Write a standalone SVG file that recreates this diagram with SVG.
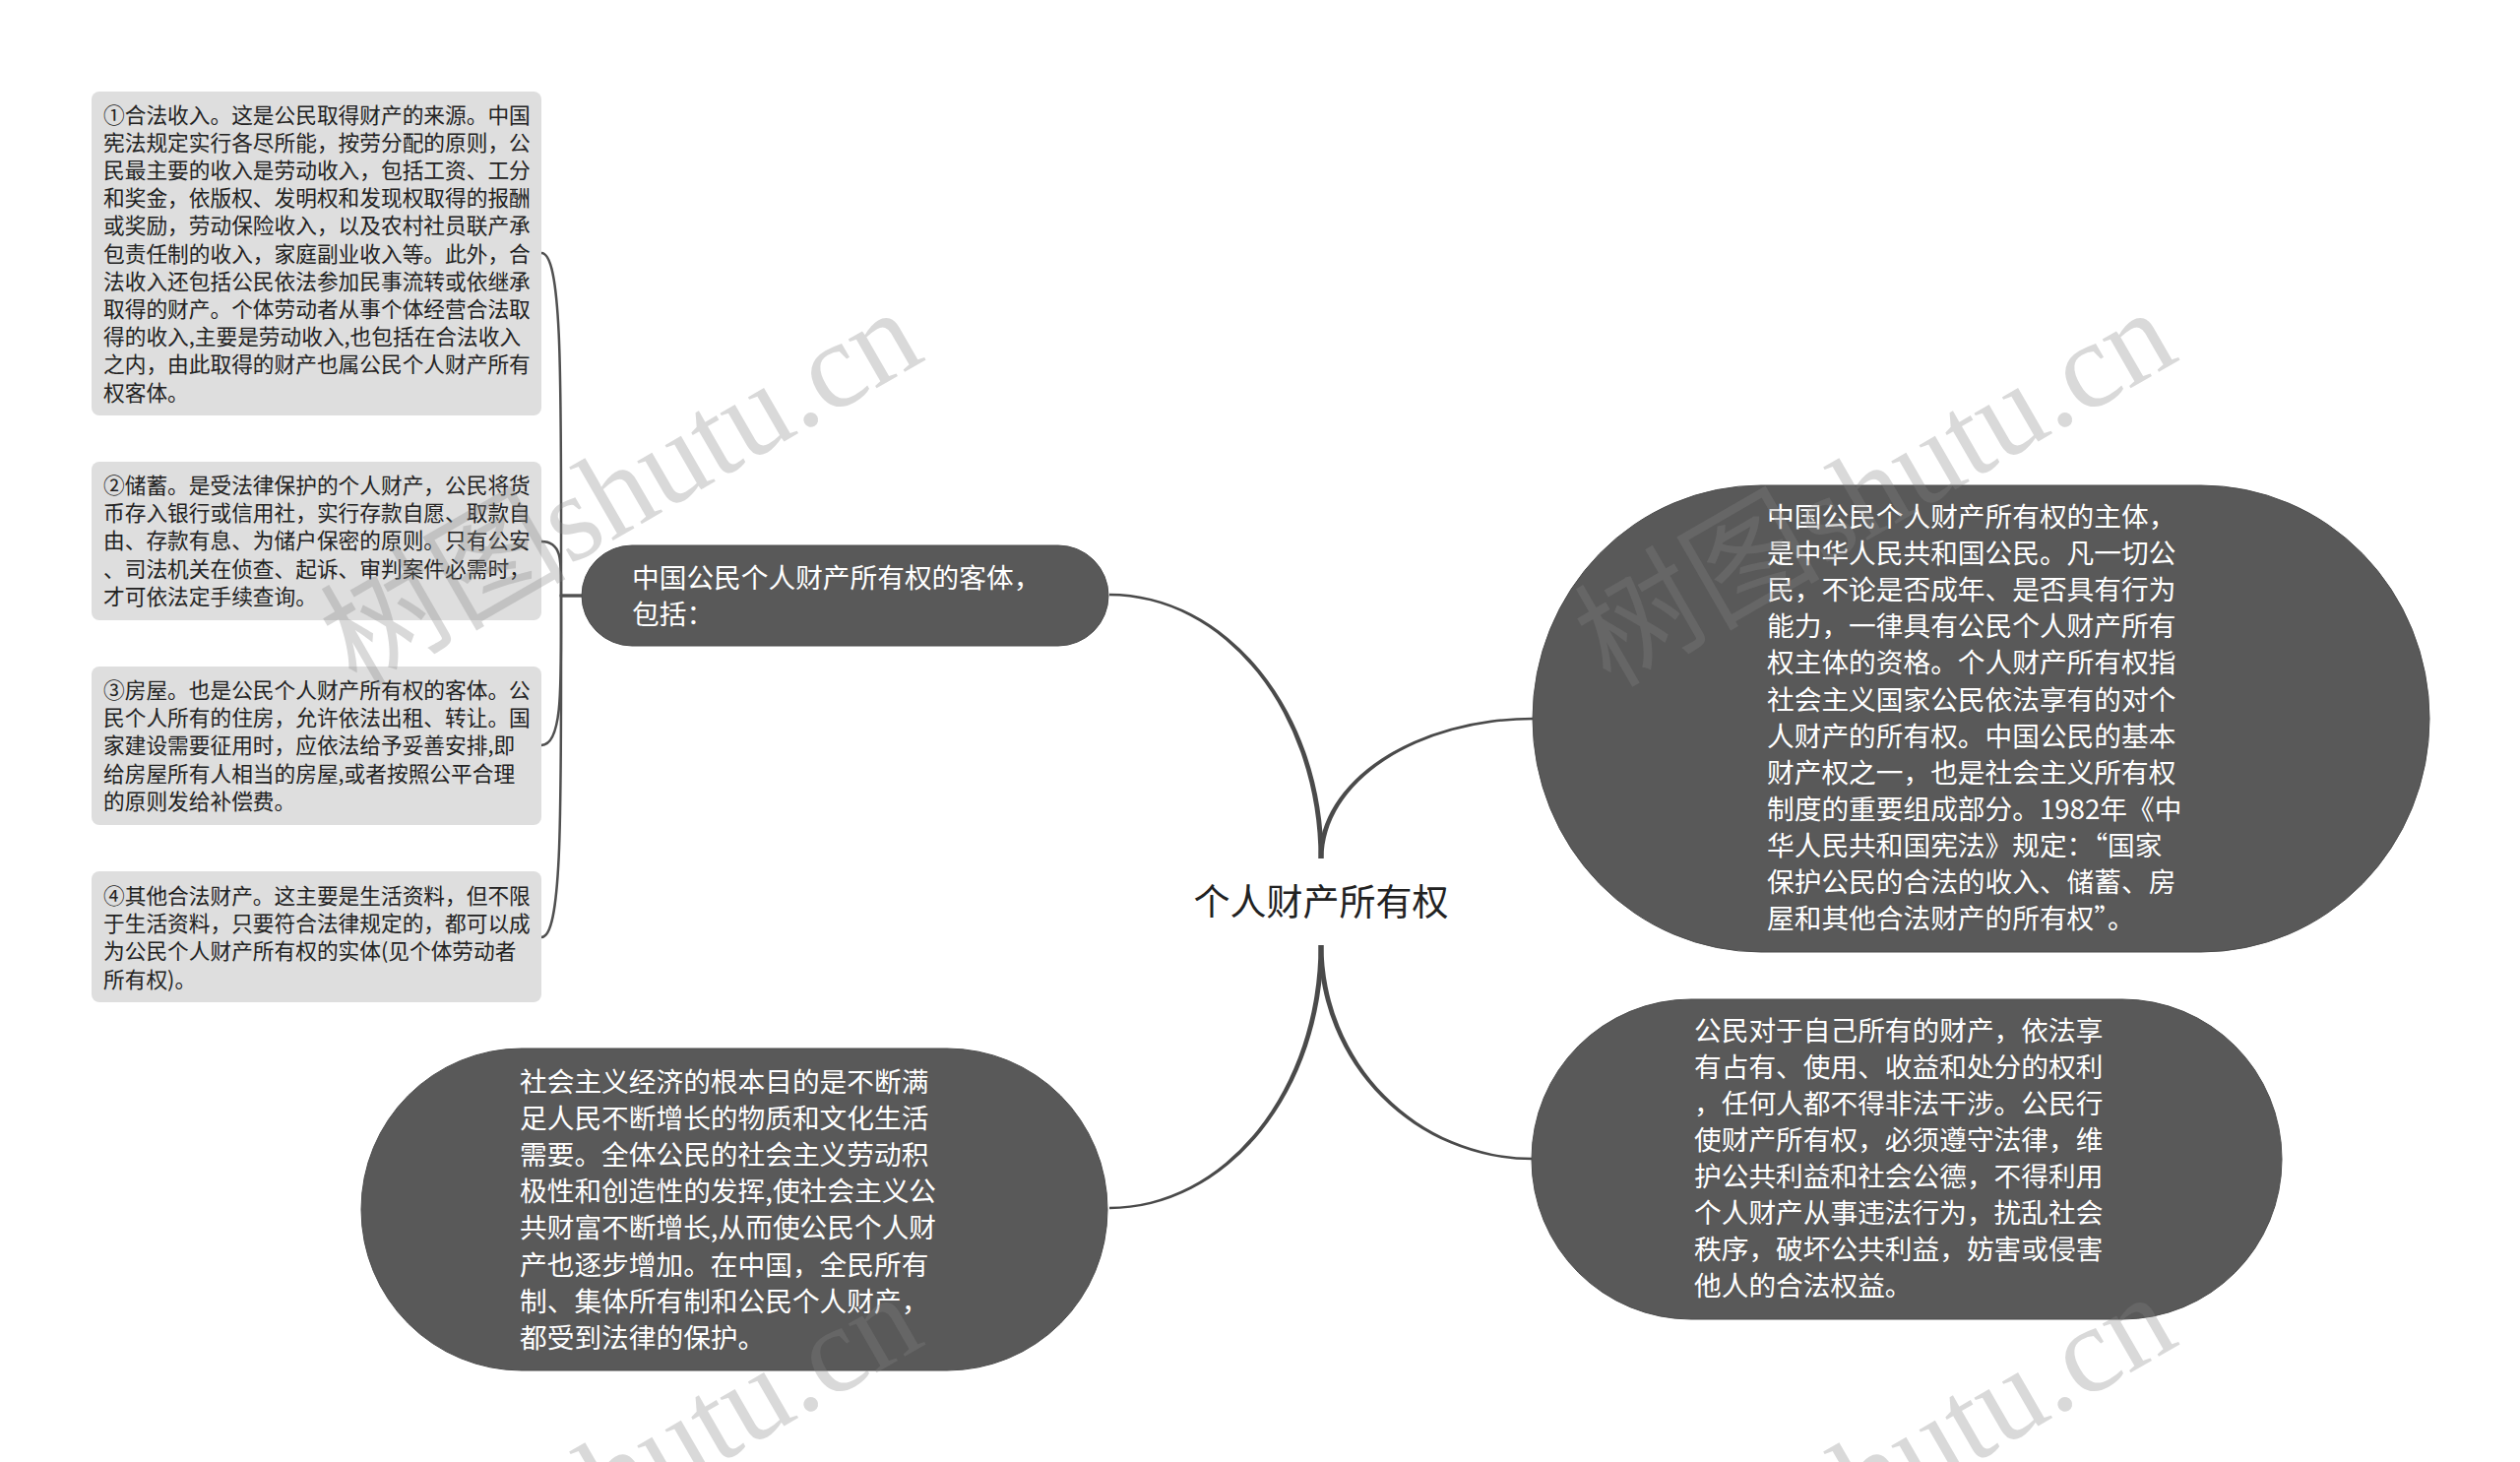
<svg xmlns="http://www.w3.org/2000/svg" width="2560" height="1485" viewBox="0 0 2560 1485">
<style>
.lb{fill:#dedede}
.lt{font-family:"Noto Sans CJK SC","Noto Sans",sans-serif;font-size:21.7px;fill:#222}
.dn{fill:#595959;stroke:#4d4d4d;stroke-width:1}
.dt{font-family:"Noto Sans CJK SC","Noto Sans",sans-serif;font-size:27.7px;fill:#fff}
.ct{font-family:"Noto Sans CJK SC","Noto Sans",sans-serif;font-size:37px;fill:#222}
.br{fill:none;stroke:#505050;stroke-width:2.5}
.tp{fill:#4a4a4a}
.fw{font-feature-settings:"fwid" 1}
.wm{font-family:"Liberation Serif","Noto Sans CJK SC",serif;font-size:125px;fill:#848484;fill-opacity:0.31}
</style>
<rect x="0" y="0" width="2560" height="1485" fill="#fff"/>
<g id="connectors">
<path class="tp" d="M 1344.5 872 A 217.5 269.2 0 0 0 1127 602.8 L 1127 605.2 A 212.5 266.8 0 0 1 1339.5 872 Z"/>
<path class="tp" d="M 1339.5 872 A 217.5 143.2 0 0 1 1557 728.8 L 1557 731.2 A 212.5 140.8 0 0 0 1344.5 872 Z"/>
<path class="tp" d="M 1344.5 960 A 217.5 268.2 0 0 1 1127 1228.2 L 1127 1225.8 A 212.5 265.8 0 0 0 1339.5 960 Z"/>
<path class="tp" d="M 1339.5 960 A 217.5 218.2 0 0 0 1557 1178.2 L 1557 1175.8 A 212.5 215.8 0 0 1 1344.5 960 Z"/>
<path class="br" d="M 592 605 H 570 C 570 397 572 257 550 257"/>
<path class="br" d="M 592 605 H 570 C 570 572 572 550 550 550"/>
<path class="br" d="M 592 605 H 570 C 570 696 572 757 550 757"/>
<path class="br" d="M 592 605 H 570 C 570 813 572 952 550 952"/>
</g>
<g id="center">
<text class="ct" x="1342" y="930" text-anchor="middle">个人财产所有权</text>
</g>
<g id="node-keti">
<rect class="dn" x="591" y="554" width="535" height="102" rx="51"/>
<text class="dt"><tspan x="642" y="597">中国公民个人财产所有权的客体，</tspan><tspan x="642" y="634">包括：</tspan></text>
</g>
<g id="node-shouru">
<rect class="lb" x="93" y="93" width="457" height="329" rx="8"/>
<text class="lt">
<tspan x="105" y="124.5">①合法收入。这是公民取得财产的来源。中国</tspan>
<tspan x="105" y="152.7">宪法规定实行各尽所能，按劳分配的原则，公</tspan>
<tspan x="105" y="180.9">民最主要的收入是劳动收入，包括工资、工分</tspan>
<tspan x="105" y="209.1">和奖金，依版权、发明权和发现权取得的报酬</tspan>
<tspan x="105" y="237.3">或奖励，劳动保险收入，以及农村社员联产承</tspan>
<tspan x="105" y="265.5">包责任制的收入，家庭副业收入等。此外，合</tspan>
<tspan x="105" y="293.7">法收入还包括公民依法参加民事流转或依继承</tspan>
<tspan x="105" y="321.9">取得的财产。个体劳动者从事个体经营合法取</tspan>
<tspan x="105" y="350.1">得的收入,主要是劳动收入,也包括在合法收入</tspan>
<tspan x="105" y="378.3">之内，由此取得的财产也属公民个人财产所有</tspan>
<tspan x="105" y="406.5">权客体。</tspan>
</text>
</g>
<g id="node-chuxu">
<rect class="lb" x="93" y="469" width="457" height="161" rx="8"/>
<text class="lt">
<tspan x="105" y="501">②储蓄。是受法律保护的个人财产，公民将货</tspan>
<tspan x="105" y="529.2">币存入银行或信用社，实行存款自愿、取款自</tspan>
<tspan x="105" y="557.4">由、存款有息、为储户保密的原则。只有公安</tspan>
<tspan x="105" y="585.6">、司法机关在侦查、起诉、审判案件必需时，</tspan>
<tspan x="105" y="613.8">才可依法定手续查询。</tspan>
</text>
</g>
<g id="node-fangwu">
<rect class="lb" x="93" y="677" width="457" height="161" rx="8"/>
<text class="lt">
<tspan x="105" y="709">③房屋。也是公民个人财产所有权的客体。公</tspan>
<tspan x="105" y="737.2">民个人所有的住房，允许依法出租、转让。国</tspan>
<tspan x="105" y="765.4">家建设需要征用时，应依法给予妥善安排,即</tspan>
<tspan x="105" y="793.6">给房屋所有人相当的房屋,或者按照公平合理</tspan>
<tspan x="105" y="821.8">的原则发给补偿费。</tspan>
</text>
</g>
<g id="node-qita">
<rect class="lb" x="93" y="885" width="457" height="133" rx="8"/>
<text class="lt">
<tspan x="105" y="918">④其他合法财产。这主要是生活资料，但不限</tspan>
<tspan x="105" y="946.2">于生活资料，只要符合法律规定的，都可以成</tspan>
<tspan x="105" y="974.4">为公民个人财产所有权的实体(见个体劳动者</tspan>
<tspan x="105" y="1002.6">所有权)。</tspan>
</text>
</g>
<g id="node-zhuti">
<rect class="dn" x="1557" y="493" width="911" height="474" rx="232" ry="237"/>
<text class="dt">
<tspan x="1795" y="535">中国公民个人财产所有权的主体，</tspan>
<tspan x="1795" y="572.1">是中华人民共和国公民。凡一切公</tspan>
<tspan x="1795" y="609.2">民，不论是否成年、是否具有行为</tspan>
<tspan x="1795" y="646.3">能力，一律具有公民个人财产所有</tspan>
<tspan x="1795" y="683.4">权主体的资格。个人财产所有权指</tspan>
<tspan x="1795" y="720.5">社会主义国家公民依法享有的对个</tspan>
<tspan x="1795" y="757.6">人财产的所有权。中国公民的基本</tspan>
<tspan x="1795" y="794.7">财产权之一，也是社会主义所有权</tspan>
<tspan x="1795" y="831.8">制度的重要组成部分。1982年《中</tspan>
<tspan x="1795" y="868.9" class="fw">华人民共和国宪法》规定：“国家</tspan>
<tspan x="1795" y="906">保护公民的合法的收入、储蓄、房</tspan>
<tspan x="1795" y="943.1" class="fw">屋和其他合法财产的所有权”。</tspan>
</text>
</g>
<g id="node-quanli">
<rect class="dn" x="1556" y="1015" width="762" height="325" rx="162"/>
<text class="dt">
<tspan x="1721" y="1057">公民对于自己所有的财产，依法享</tspan>
<tspan x="1721" y="1094">有占有、使用、收益和处分的权利</tspan>
<tspan x="1721" y="1131">，任何人都不得非法干涉。公民行</tspan>
<tspan x="1721" y="1168">使财产所有权，必须遵守法律，维</tspan>
<tspan x="1721" y="1205">护公共利益和社会公德，不得利用</tspan>
<tspan x="1721" y="1242">个人财产从事违法行为，扰乱社会</tspan>
<tspan x="1721" y="1279">秩序，破坏公共利益，妨害或侵害</tspan>
<tspan x="1721" y="1316">他人的合法权益。</tspan>
</text>
</g>
<g id="node-mudi">
<rect class="dn" x="367" y="1065" width="758" height="327" rx="163"/>
<text class="dt">
<tspan x="528" y="1109">社会主义经济的根本目的是不断满</tspan>
<tspan x="528" y="1146.1">足人民不断增长的物质和文化生活</tspan>
<tspan x="528" y="1183.2">需要。全体公民的社会主义劳动积</tspan>
<tspan x="528" y="1220.3">极性和创造性的发挥,使社会主义公</tspan>
<tspan x="528" y="1257.4">共财富不断增长,从而使公民个人财</tspan>
<tspan x="528" y="1294.5">产也逐步增加。在中国，全民所有</tspan>
<tspan x="528" y="1331.6">制、集体所有制和公民个人财产，</tspan>
<tspan x="528" y="1368.7">都受到法律的保护。</tspan>
</text>
</g>
<g id="watermarks">
<text class="wm" x="652" y="532" text-anchor="middle" transform="rotate(-30 652 532)">树图shutu.cn</text>
<text class="wm" x="1926" y="532" text-anchor="middle" transform="rotate(-30 1926 532)">树图shutu.cn</text>
<text class="wm" x="652" y="1532" text-anchor="middle" transform="rotate(-30 652 1532)">树图shutu.cn</text>
<text class="wm" x="1926" y="1532" text-anchor="middle" transform="rotate(-30 1926 1532)">树图shutu.cn</text>
</g>
</svg>
